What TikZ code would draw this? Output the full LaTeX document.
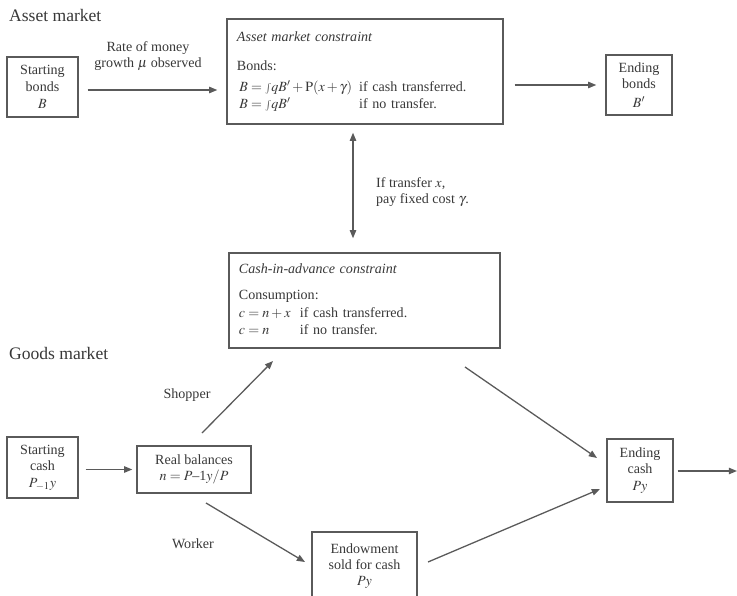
\documentclass[tikz,border=0pt]{standalone}
\usepackage{amsmath}
\usepackage{mathptmx}
\usepackage{fontspec}
\setmainfont{Liberation Serif}
\usetikzlibrary{arrows.meta}

\definecolor{linegray}{HTML}{5A5A5A}
\definecolor{textgray}{HTML}{383838}

\tikzset{
  box/.style={draw=linegray, line width=1.2pt, align=center, inner sep=0pt},
  arr/.style={draw=linegray, line width=1.1pt, -{Triangle[length=7pt,width=5.5pt]}},
  dblarr/.style={draw=linegray, line width=1.1pt, {Triangle[length=7pt,width=5.5pt]}-{Triangle[length=7pt,width=5.5pt]}},
  heading/.style={anchor=west, font=\fontsize{15}{17}\selectfont}
}

\begin{document}
\begin{tikzpicture}[x=0.03cm, y=-0.03cm, font=\fontsize{12}{14}\selectfont, text=textgray]
   \useasboundingbox (0,0) rectangle (737,595);
   \clip (0,0) rectangle (737,595);
   % asset market
   \node[heading] (assettitle) at (5,15) {Asset market};
   \node[box, minimum width=2.13cm, minimum height=1.8cm] (sbonds) at (42.5,87) {Starting\\bonds\\[1pt]$B$};
   \node[box, inner xsep=0.3cm, text width=7.68cm, align=left, minimum width=8.28cm, minimum height=3.15cm] (amc) at (365,71.5) {%
     \begin{tabular}{@{}l@{\enspace}l@{}}
       \multicolumn{2}{@{}l}{\textit{Asset market constraint}}\\[11pt]
       \multicolumn{2}{@{}l}{Bonds:}\\[4pt]
       \,$B={\scriptstyle\int} qB' + \mathrm{P}(x+\gamma)$ & if cash transferred.\\
       \,$B={\scriptstyle\int} qB'$ & if no transfer.
     \end{tabular}};
   \node[box, minimum width=1.98cm, minimum height=1.8cm] (ebonds) at (639,85) {Ending\\bonds\\[2pt]$B'$};
   \node[align=center] (rate) at (148,56) {Rate of money\\growth $\mu$ observed};
   \draw[arr, shorten <=0.27cm, shorten >=0.27cm] ([yshift=-0.09cm]sbonds.east) -- ([yshift=-0.09cm]sbonds.east -| amc.west);
   \draw[arr, shorten <=0.33cm, shorten >=0.27cm] (ebonds.west -| amc.east) -- (ebonds.west);
   % link between the two markets
   \node[box, inner xsep=0.3cm, text width=7.53cm, align=left, minimum width=8.13cm, minimum height=2.85cm] (cia) at (364.5,300.5) {%
     \begin{tabular}{@{}l@{\ \ }l@{}}
       \multicolumn{2}{@{}l}{\textit{Cash-in-advance constraint}}\\[8pt]
       \multicolumn{2}{@{}l}{Consumption:}\\[2pt]
       $c=n+x$ & if cash transferred.\\
       $c=n$ & if no transfer.
     \end{tabular}};
   \draw[dblarr, shorten <=0.24cm, shorten >=0.42cm] ([xshift=-0.36cm]amc.south) -- ([xshift=-0.36cm]amc.south |- cia.north);
   \node[anchor=west, align=left] (transfer) at (372,192) {If transfer $x$,\\pay fixed cost $\gamma$.};
   % goods market
   \node[heading] (goodstitle) at (5,353) {Goods market};
   \node[box, minimum width=2.13cm, minimum height=1.83cm] (scash) at (42.5,467.5) {Starting\\cash\\$P_{-1}y$};
   \node[box, minimum width=3.42cm, minimum height=1.41cm] (real) at (194,469.5) {Real balances\\$n = P\mbox{--1}y/P$};
   \node[box, minimum width=3.15cm, minimum height=2.04cm] (endow) at (364.5,566) {Endowment\\sold for cash\\$Py$};
   \node[box, minimum width=1.98cm, minimum height=1.89cm] (ecash) at (640,470.5) {Ending\\cash\\$Py$};
   \node (shopper) at (187,395) {Shopper};
   \node (worker) at (193,544) {Worker};
   \coordinate (shopS) at (202,433);
   \coordinate (shopE) at (273,361);
   \coordinate (ciaS) at (465,367);
   \coordinate (ciaE) at (597,458);
   \coordinate (workS) at (206,503);
   \coordinate (workE) at (305,562);
   \coordinate (endS) at (428,562);
   \coordinate (endE) at (600,489);
   \coordinate (out) at (737,471);
   \draw[arr, shorten <=0.21cm, shorten >=0.12cm] (scash.east |- real.west) -- (real.west);
   \draw[arr] (shopS) -- (shopE);
   \draw[arr] (ciaS) -- (ciaE);
   \draw[arr] (workS) -- (workE);
   \draw[arr] (endS) -- (endE);
   \draw[arr, shorten <=0.12cm] (ecash.east |- out) -- (out);
\end{tikzpicture}
\end{document}
